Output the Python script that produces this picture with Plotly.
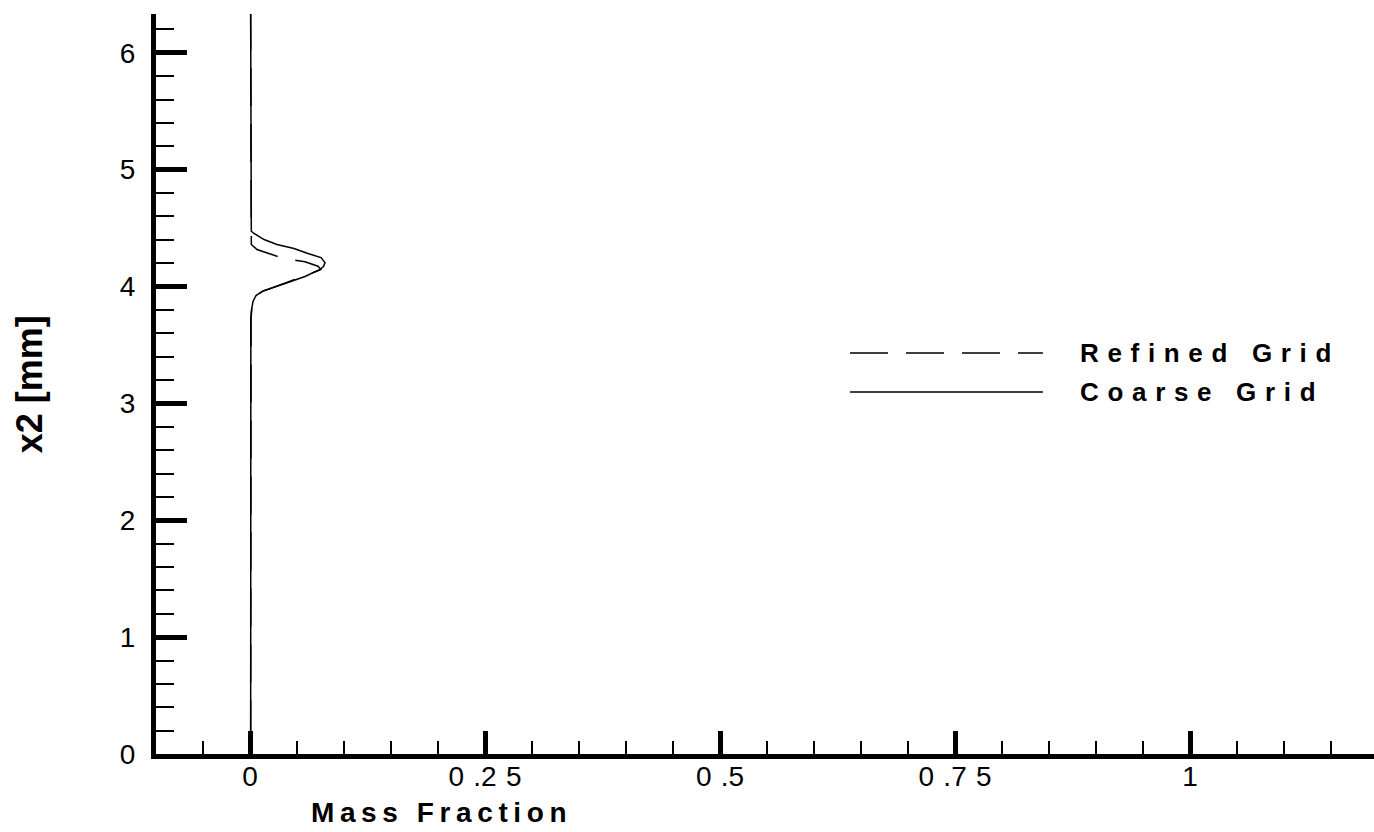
import plotly.graph_objects as go

# ---- data ----
refined_y = [6.35, 4.488, 4.428, 4.360, 4.317, 4.291, 4.259, 4.231, 4.212, 4.174, 4.146,
             4.129, 4.078, 4.018, 3.983, 3.957, 3.915, 3.889, 3.821, 3.735, 0.0]
refined_x = [0.0007, 0.0007, 0.0009, 0.0014, 0.0074, 0.0181, 0.0287, 0.0436, 0.0585, 0.0723, 0.0755,
             0.0702, 0.0532, 0.0351, 0.0213, 0.0128, 0.0064, 0.0032, 0.0021, 0.0011, 0.0007]

coarse_y = [6.35, 4.531, 4.473, 4.454, 4.402, 4.360, 4.325, 4.283, 4.248, 4.205, 4.171,
            4.146, 4.086, 4.034, 4.000, 3.962, 3.923, 3.872, 3.803, 3.718, 0.0]
coarse_x = [0.0007, 0.0007, 0.0014, 0.0043, 0.0149, 0.0287, 0.0468, 0.0617, 0.0755, 0.0798, 0.0782,
            0.0745, 0.0585, 0.0404, 0.0266, 0.0138, 0.0064, 0.0032, 0.0016, 0.0009, 0.0007]

x_tick_vals = [0, 0.25, 0.5, 0.75, 1]
x_tick_text = ["0", "0\u2004.2\u20045", "0\u2004.5", "0\u2004.7\u20045", "1"]
y_tick_vals = [0, 1, 2, 3, 4, 5, 6]
y_tick_text = ["0", "1", "2", "3", "4", "5", "6"]

series_names = ["R\u2004e\u2004f\u2004i\u2004n\u2004e\u2004d\u2004 \u2004G\u2004r\u2004i\u2004d",
                "C\u2004o\u2004a\u2004r\u2004s\u2004e\u2004 \u2004G\u2004r\u2004i\u2004d"]
x_title = "M\u2009a\u2009s\u2009s\u2009 \u2009F\u2009r\u2009a\u2009c\u2009t\u2009i\u2009o\u2009n"
y_title = "x2 [mm]"

FONT = "Liberation Sans, Arial, sans-serif"

fig = go.Figure()
fig.add_trace(go.Scatter(x=refined_x, y=refined_y, mode="lines", name=series_names[0],
                         line=dict(color="black", width=1.5, dash="38px,18px"), showlegend=False))
fig.add_trace(go.Scatter(x=coarse_x, y=coarse_y, mode="lines", name=series_names[1],
                         line=dict(color="black", width=1.5), showlegend=False))

# legend drawn manually (long sample lines as in the reference)
leg_x0, leg_x1, leg_tx = 0.5698, 0.7282, 0.757
leg_ys = [0.5419, 0.4892]
leg_dash = ["38px,18px", "solid"]
for yy, dd, nm in zip(leg_ys, leg_dash, series_names):
    fig.add_shape(type="line", xref="paper", yref="paper", x0=leg_x0, x1=leg_x1, y0=yy, y1=yy,
                  line=dict(color="black", width=1.5, dash=dd))
    fig.add_annotation(xref="paper", yref="paper", x=leg_tx, y=yy, text="<b>" + nm + "</b>",
                       showarrow=False, xanchor="left", yanchor="middle",
                       font=dict(family=FONT, size=26, color="black"))

# axis titles placed as in the reference
fig.add_annotation(xref="paper", yref="paper", x=0.2323, y=-0.0784, text="<b>" + x_title + "</b>",
                   showarrow=False, xanchor="center", yanchor="middle",
                   font=dict(family=FONT, size=28, color="black"))
fig.add_annotation(xref="paper", yref="paper", x=-0.104, y=0.5, text="<b>" + y_title + "</b>",
                   showarrow=False, xanchor="center", yanchor="middle", textangle=-90,
                   font=dict(family=FONT, size=36, color="black"))

fig.update_xaxes(range=[-0.1, 1.1957], showgrid=False, zeroline=False,
                 showline=True, linewidth=5, linecolor="black",
                 ticks="inside", ticklen=23, tickwidth=4.5, tickcolor="black",
                 tickvals=x_tick_vals, ticktext=x_tick_text, ticklabelstandoff=-7,
                 tickfont=dict(family=FONT, size=28, color="black"),
                 minor=dict(ticks="inside", ticklen=13, tickwidth=1.5, tickcolor="black", dtick=0.05, tick0=0))
fig.update_yaxes(range=[0, 6.332], showgrid=False, zeroline=False,
                 showline=True, linewidth=5, linecolor="black",
                 ticks="inside", ticklen=31, tickwidth=5, tickcolor="black",
                 tickvals=y_tick_vals, ticktext=y_tick_text, ticklabelstandoff=10,
                 tickfont=dict(family=FONT, size=28, color="black"),
                 minor=dict(ticks="inside", ticklen=18, tickwidth=1.5, tickcolor="black", dtick=0.2, tick0=0))

fig.update_layout(width=1374, height=832, margin=dict(l=156, r=0, t=14, b=78, pad=0),
                  plot_bgcolor="white", paper_bgcolor="white", showlegend=False)

fig.write_html("out.html")
